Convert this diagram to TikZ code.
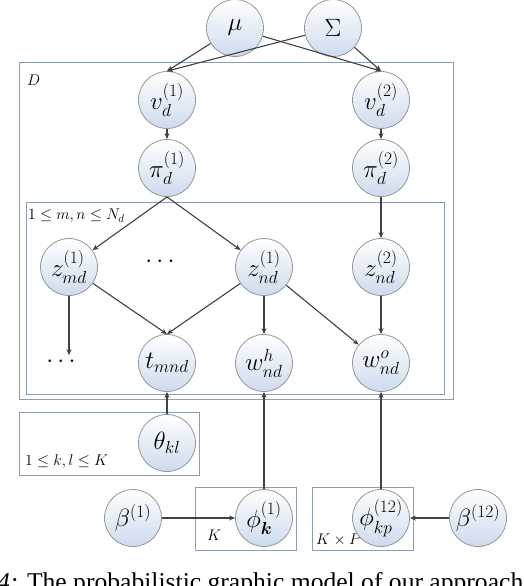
\RequirePackage{fix-cm}
\documentclass[tikz,border=0pt]{standalone}
\usepackage{amsmath}
\usepackage{fontspec}
\newfontfamily\capfont{Liberation Serif}
\usetikzlibrary{arrows.meta}
\definecolor{nodeborder}{RGB}{150,150,150}
\definecolor{nodefill}{RGB}{205,219,238}
\definecolor{boxcol}{RGB}{142,158,178}
\definecolor{edgecol}{RGB}{64,64,64}
\tikzset{
  var/.style={circle, draw=nodeborder, line width=0.8pt, top color=white, bottom color=nodefill, minimum size=57pt, inner sep=0pt, font=\fontsize{25}{28}\selectfont},
  plate/.style={draw=boxcol, line width=0.9pt},
  edge/.style={draw=edgecol, line width=1.1pt, -{Stealth[length=6pt,width=5pt]}},
  platelabel/.style={inner sep=0pt, font=\fontsize{15.5}{18}\selectfont},
  dotsnode/.style={inner sep=1pt, font=\fontsize{25}{28}\selectfont}
}
\begin{document}
\begin{tikzpicture}[x=1pt,y=-1pt]
\useasboundingbox (0,0) rectangle (524,586);
% plates
\draw[plate] (19,62) rectangle (453,399);
\draw[plate] (26,202) rectangle (444,394);
\draw[plate] (19,412) rectangle (199,475);
\draw[plate] (195,487) rectangle (296,550);
\draw[plate] (312,487) rectangle (413,550);
\node[platelabel, anchor=west] (lD) at (27,80) {$D$};
\node[platelabel, anchor=west] (lmn) at (28,216) {$1\le m,n\le N_d$};
\node[platelabel, anchor=west] (lkl) at (25,462) {$1\le k,l\le K$};
\node[platelabel, anchor=west] (lK) at (207,535) {$K$};
\node[platelabel, anchor=west] (lKP) at (316,540) {$K\times P$};
% nodes
\node[var] (mu) at (235,28) {$\mu$};
\node[var] (Sig) at (333,28) {$\Sigma$};
\node[var] (v1) at (167,100) {$v_d^{(1)}$};
\node[var] (v2) at (381,100) {$v_d^{(2)}$};
\node[var] (p1) at (167,168) {$\pi_d^{(1)}$};
\node[var] (p2) at (381,168) {$\pi_d^{(2)}$};
\node[var] (zm) at (69,267) {$z_{md}^{(1)}$};
\node[var] (zn1) at (264,267) {$z_{nd}^{(1)}$};
\node[var] (zn2) at (381,267) {$z_{nd}^{(2)}$};
\node[dotsnode] (d1) at (162,262) {$\cdots$};
\node[dotsnode] (d2) at (63,362) {$\cdots$};
\node[var] (t) at (167,363) {$t_{mnd}$};
\node[var] (wh) at (264,363) {$w_{nd}^{h}$};
\node[var] (wo) at (381,363) {$w_{nd}^{o}$};
\node[var] (th) at (167,443) {$\theta_{kl}$};
\node[var] (b1) at (133,518) {$\beta^{(1)}$};
\node[var] (f1) at (264,518) {$\phi_{\boldsymbol{k}}^{(1)}$};
\node[var] (f12) at (381,518) {$\phi_{kp}^{(12)}$};
\node[var] (b12) at (478,518) {$\beta^{(12)}$};
% edges
\draw[edge] (mu) -- (v1.north);
\draw[edge] (Sig) -- (v1.north);
\draw[edge] (mu) -- (v2.north);
\draw[edge] (Sig) -- (v2.north);
\draw[edge] (v1) -- (p1);
\draw[edge] (v2) -- (p2);
\draw[edge] (p1.south) -- (zm);
\draw[edge] (p1.south) -- (zn1);
\draw[edge] (p2) -- (zn2);
\draw[edge] (zm) -- (zm |- d2.north);
\draw[edge] (zm) -- (t.north);
\draw[edge] (zn1) -- (t.north);
\draw[edge] (zn1) -- (wh);
\draw[edge] (zn1) -- (wo);
\draw[edge] (zn2) -- (wo);
\draw[edge] (th) -- (t);
\draw[edge] (f1) -- (wh);
\draw[edge] (f12) -- (wo);
\draw[edge] (b1) -- (f1);
\draw[edge] (b12) -- (f12);
% caption
\node[anchor=base west, inner sep=0pt, font=\capfont\fontsize{25.6}{28}\selectfont] (cap) at (-3,590) {\textit{4:} The probabilistic graphic model of our approach};
\end{tikzpicture}
\end{document}
